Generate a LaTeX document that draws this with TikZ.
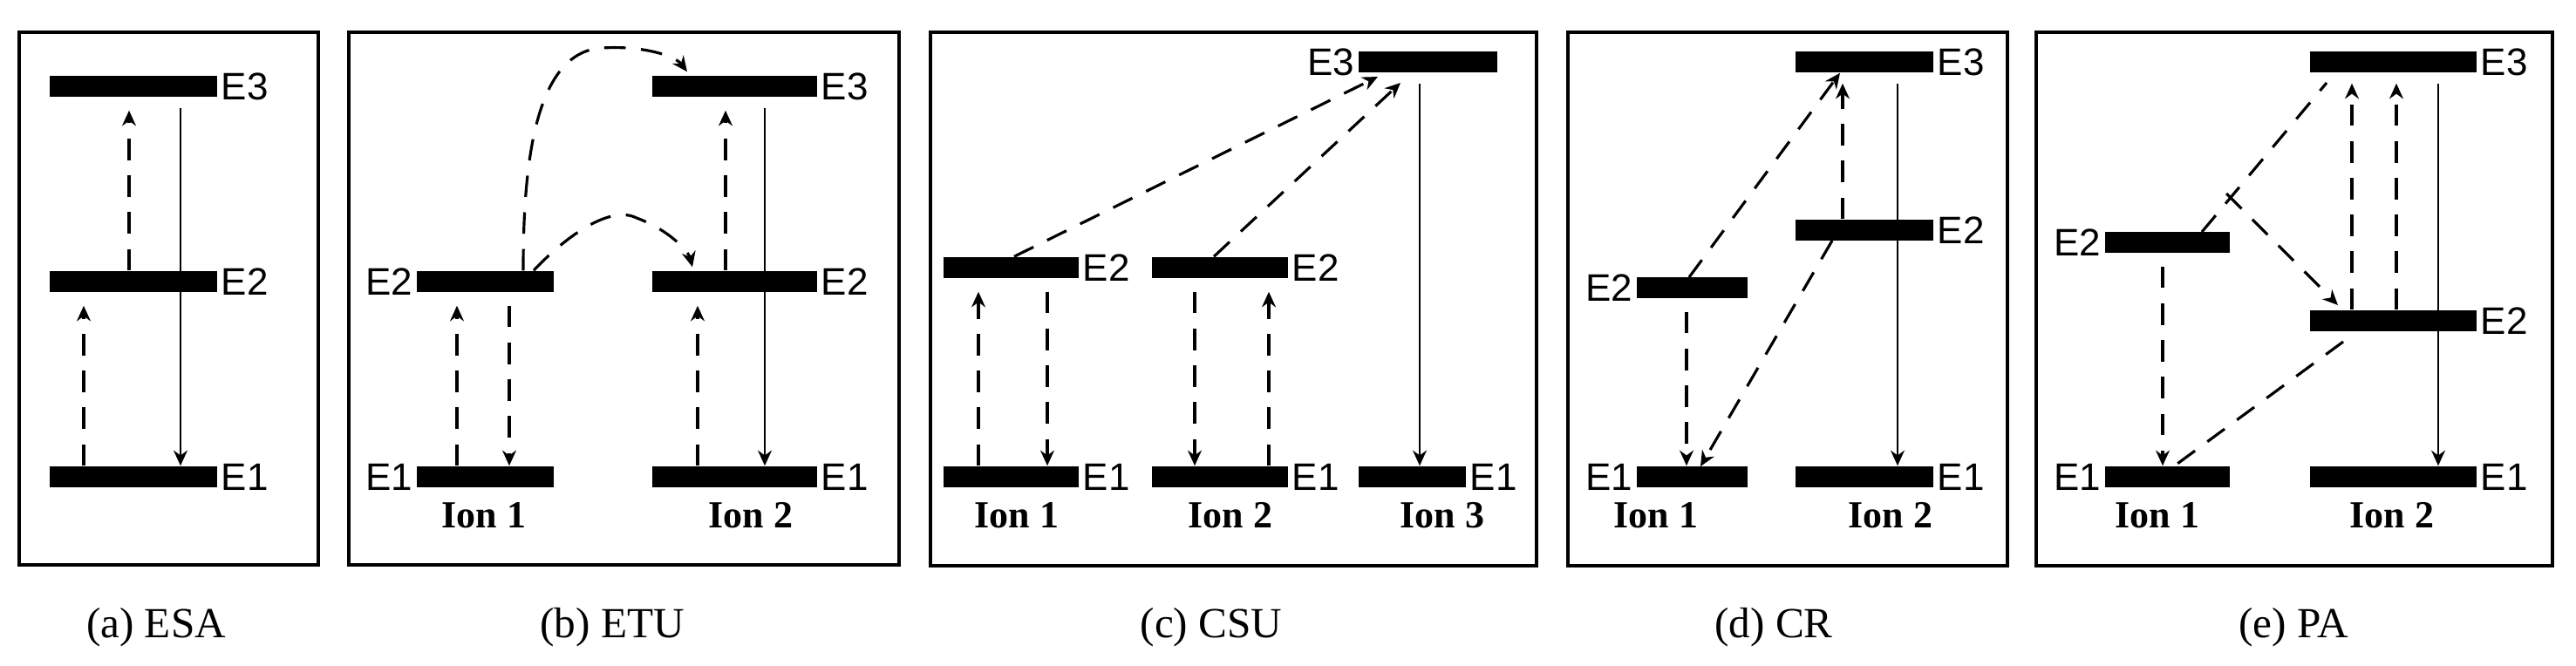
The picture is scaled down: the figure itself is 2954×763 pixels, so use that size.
\documentclass[tikz,border=0pt]{standalone}
\usepackage{fontspec}
\setmainfont{Liberation Serif}
\newfontfamily\lab{Liberation Sans}
\usetikzlibrary{arrows.meta}
\newcommand\lvl[4]{\node[lev,minimum width={(#3-#2)*0.01cm}] (#1) at ({(#2+#3)/2},#4) {};}
\begin{document}
\begin{tikzpicture}[x=0.01cm,y=-0.01cm,
  lev/.style={fill=black,inner sep=0pt,minimum height=0.24cm},
  panel/.style={draw,line width=1.2pt},
  elab/.style={font=\lab\fontsize{12.5}{14}\selectfont,inner sep=1pt},
  ion/.style={font=\bfseries\fontsize{12.5}{14}\selectfont,inner sep=0pt},
  capt/.style={font=\fontsize{14}{16}\selectfont,inner sep=0pt},
  da/.style={line width=0.9pt,dash pattern=on 7pt off 5pt,-{Stealth[length=5pt,width=4.5pt]}},
  dl/.style={line width=0.9pt,dash pattern=on 7pt off 5pt},
  sa/.style={line width=0.8pt,-{Stealth[length=5pt,width=4.5pt]}}]
\useasboundingbox (0,0) rectangle (2954,763);
% panels
\draw[panel] (22,37) rectangle (365,648);
\draw[panel] (400,37) rectangle (1031,648);
\draw[panel] (1067,37) rectangle (1762,649);
\draw[panel] (1798,37) rectangle (2302,649);
\draw[panel] (2335,37) rectangle (2927,649);
% (a)
\lvl{a3}{57}{249}{99}\lvl{a2}{57}{249}{323}\lvl{a1}{57}{249}{547}
\node[elab,anchor=west] at (a3.east) {E3};
\node[elab,anchor=west] at (a2.east) {E2};
\node[elab,anchor=west] at (a1.east) {E1};
\draw[da] (a1.north -| 96,0) -- ([yshift=-0.15cm]a2.south -| 96,0);
\draw[da] (a2.north -| 148,0) -- ([yshift=-0.15cm]a3.south -| 148,0);
\draw[sa] ([yshift=-0.12cm]a3.south -| 207,0) -- (a1.north -| 207,0);
% (b)
\lvl{b12}{478}{635}{323}\lvl{b11}{478}{635}{547}
\lvl{b23}{748}{937}{99}\lvl{b22}{748}{937}{323}\lvl{b21}{748}{937}{547}
\node[elab,anchor=east] at (b12.west) {E2};
\node[elab,anchor=east] at (b11.west) {E1};
\node[elab,anchor=west] at (b23.east) {E3};
\node[elab,anchor=west] at (b22.east) {E2};
\node[elab,anchor=west] at (b21.east) {E1};
\node[ion] at (555,591) {Ion 1};
\node[ion] at (861,591) {Ion 2};
\draw[da] (b11.north -| 524,0) -- ([yshift=-0.15cm]b12.south -| 524,0);
\draw[da] ([yshift=-0.15cm]b12.south -| 584,0) -- (b11.north -| 584,0);
\draw[da] (b12.north -| 600,0) .. controls (600,200) and (610,60) .. (690,55) .. controls (740,52) and (775,65) .. ([yshift=0.04cm]b23.north -| 788,0);
\draw[da] (b12.north -| 612,0) .. controls (650,270) and (700,235) .. (730,250) .. controls (770,265) and (790,290) .. ([yshift=0.04cm]b22.north -| 794,0);
\draw[da] (b21.north -| 800,0) -- ([yshift=-0.15cm]b22.south -| 800,0);
\draw[da] (b22.north -| 832,0) -- ([yshift=-0.15cm]b23.south -| 832,0);
\draw[sa] ([yshift=-0.12cm]b23.south -| 877,0) -- (b21.north -| 877,0);
% (c)
\lvl{c12}{1082}{1237}{307}\lvl{c11}{1082}{1237}{547}
\lvl{c22}{1321}{1477}{307}\lvl{c21}{1321}{1477}{547}
\lvl{c33}{1558}{1717}{71}\lvl{c31}{1558}{1681}{547}
\node[elab,anchor=west] at (c12.east) {E2};
\node[elab,anchor=west] at (c11.east) {E1};
\node[elab,anchor=west] at (c22.east) {E2};
\node[elab,anchor=west] at (c21.east) {E1};
\node[elab,anchor=east] at (c33.west) {E3};
\node[elab,anchor=west] at (c31.east) {E1};
\node[ion] at (1166,591) {Ion 1};
\node[ion] at (1411,591) {Ion 2};
\node[ion] at (1654,591) {Ion 3};
\draw[da] (c11.north -| 1122,0) -- ([yshift=-0.15cm]c12.south -| 1122,0);
\draw[da] ([yshift=-0.15cm]c12.south -| 1201,0) -- (c11.north -| 1201,0);
\draw[da] ([yshift=-0.15cm]c22.south -| 1370,0) -- (c21.north -| 1370,0);
\draw[da] (c21.north -| 1455,0) -- ([yshift=-0.15cm]c22.south -| 1455,0);
\draw[da] (c12.north -| 1163,0) -- (1580,88);
\draw[da] (c22.north -| 1392,0) -- (1606,95);
\draw[sa] ([yshift=-0.12cm]c33.south -| 1628,0) -- (c31.north -| 1628,0);
% (d)
\lvl{d12}{1877}{2004}{330}\lvl{d11}{1877}{2004}{547}
\lvl{d23}{2059}{2217}{71}\lvl{d22}{2059}{2217}{264}\lvl{d21}{2059}{2217}{547}
\node[elab,anchor=east] at (d12.west) {E2};
\node[elab,anchor=east] at (d11.west) {E1};
\node[elab,anchor=west] at (d23.east) {E3};
\node[elab,anchor=west] at (d22.east) {E2};
\node[elab,anchor=west] at (d21.east) {E1};
\node[ion] at (1899,591) {Ion 1};
\node[ion] at (2168,591) {Ion 2};
\draw[da] ([yshift=-0.15cm]d12.south -| 1934,0) -- (d11.north -| 1934,0);
\draw[da] (1937,318) -- (d23.south -| 2110,0);
\draw[da] (2101,276) -- (1950,535);
\draw[da] (d22.north -| 2113,0) -- ([yshift=-0.12cm]d23.south -| 2113,0);
\draw[sa] ([yshift=-0.12cm]d23.south -| 2176,0) -- (d21.north -| 2176,0);
% (e)
\lvl{e12}{2414}{2557}{278}\lvl{e11}{2414}{2557}{547}
\lvl{e23}{2649}{2840}{71}\lvl{e22}{2649}{2840}{368}\lvl{e21}{2649}{2840}{547}
\node[elab,anchor=east] at (e12.west) {E2};
\node[elab,anchor=east] at (e11.west) {E1};
\node[elab,anchor=west] at (e23.east) {E3};
\node[elab,anchor=west] at (e22.east) {E2};
\node[elab,anchor=west] at (e21.east) {E1};
\node[ion] at (2474,591) {Ion 1};
\node[ion] at (2743,591) {Ion 2};
\draw[da] ([yshift=-0.15cm]e12.south -| 2480,0) -- (e11.north -| 2480,0);
\draw[dl] (2525,266) -- (2668,95);
\coordinate (emid) at (2553,222);
\draw[da] (emid) -- (2681,350);
\draw[dl] (2687,392) -- (2490,537);
\draw[da] (e22.north -| 2697,0) -- ([yshift=-0.12cm]e23.south -| 2697,0);
\draw[da] (e22.north -| 2748,0) -- ([yshift=-0.12cm]e23.south -| 2748,0);
\draw[sa] ([yshift=-0.12cm]e23.south -| 2796,0) -- (e21.north -| 2796,0);
% captions
\node[capt] at (179,720) {(a) ESA};
\node[capt] at (702,720) {(b) ETU};
\node[capt] at (1389,720) {(c) CSU};
\node[capt] at (2034,720) {(d) CR};
\node[capt] at (2630,720) {(e) PA};
\end{tikzpicture}
\end{document}
